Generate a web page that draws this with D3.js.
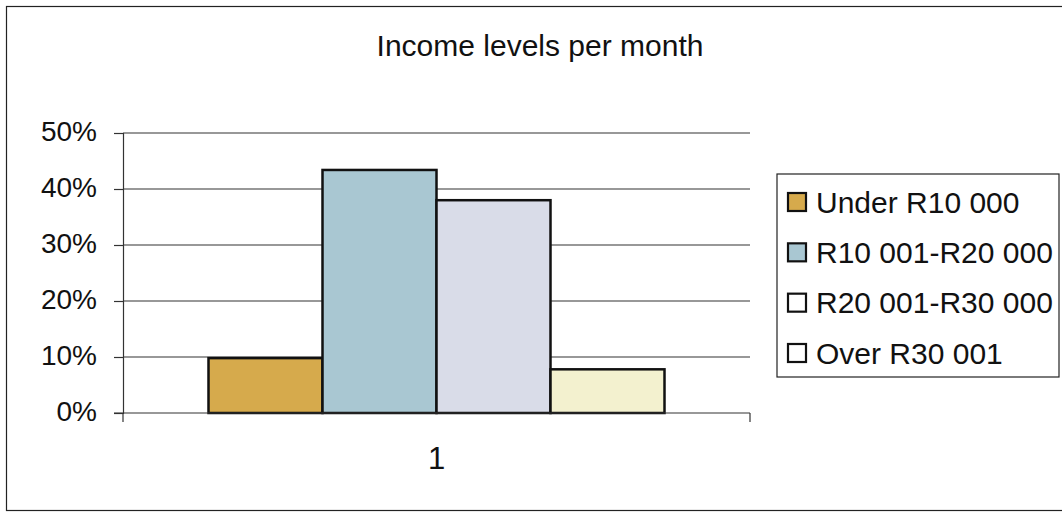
<!DOCTYPE html>
<html>
<head>
<meta charset="utf-8">
<script src="https://cdn.jsdelivr.net/npm/d3@7"></script>
<style>
  html, body { margin: 0; padding: 0; background: #fff; }
  svg { display: block; font-family: "Liberation Sans", Arial, sans-serif; }
</style>
</head>
<body>
<svg id="chart" width="1062" height="513"></svg>
<script>
// Income bands and the share of respondents in each
const categories = ["1"];
const seriesNames = ["Under R10 000", "R10 001-R20 000", "R20 001-R30 000", "Over R30 001"];
const shares = [0.098, 0.434, 0.380, 0.078];
const seriesColors = ["#d6aa4c", "#a9c7d2", "#d9dce8", "#f3f1cf"];
const legendSwatchColors = ["#d6aa4c", "#a9c7d2", "#ffffff", "#ffffff"];
const yTicks = [0, 0.1, 0.2, 0.3, 0.4, 0.5];
const titleText = "Income levels per month";

const svg = d3.select("#chart");

// outer chart frame
svg.append("rect")
  .attr("x", 6.5).attr("y", 6.5)
  .attr("width", 1070).attr("height", 504)
  .attr("fill", "#fff").attr("stroke", "#222").attr("stroke-width", 1.2);

const plot = { left: 123, right: 750, top: 133, bottom: 413 };

const y = d3.scaleLinear().domain([0, 0.5]).range([plot.bottom, plot.top]);
const x = d3.scaleBand().domain(categories)
  .range([plot.left, plot.right]).paddingInner(0).paddingOuter(0.1875);
const xs = d3.scaleBand().domain(seriesNames).range([0, x.bandwidth()]);

// horizontal gridlines
svg.append("g").selectAll("line")
  .data(yTicks.filter(d => d > 0))
  .join("line")
  .attr("x1", plot.left).attr("x2", plot.right)
  .attr("y1", d => y(d)).attr("y2", d => y(d))
  .attr("stroke", "#333").attr("stroke-width", 1.2);

// bars
const bars = categories.flatMap(c => seriesNames.map((s, i) => ({ c, s, v: shares[i], i })));
svg.append("g").selectAll("rect")
  .data(bars)
  .join("rect")
  .attr("x", d => x(d.c) + xs(d.s))
  .attr("y", d => y(d.v))
  .attr("width", xs.bandwidth())
  .attr("height", d => y(0) - y(d.v))
  .attr("fill", d => seriesColors[d.i])
  .attr("stroke", "#111").attr("stroke-width", 2.5);

// value axis
const yAxis = svg.append("g")
  .attr("transform", `translate(${plot.left},0)`)
  .call(d3.axisLeft(y).tickValues(yTicks).tickFormat(d3.format(".0%")).tickSize(9).tickPadding(17));
yAxis.select(".domain").attr("stroke", "#333").attr("stroke-width", 1.2);
yAxis.selectAll(".tick line").attr("stroke", "#333").attr("stroke-width", 1.2);
yAxis.selectAll(".tick text")
  .attr("font-size", 28).attr("fill", "#111").attr("dy", "0.28em")
  .style("font-family", "'Liberation Sans', Arial, sans-serif");

// category axis
const xAxis = svg.append("g")
  .attr("transform", `translate(0,${plot.bottom})`)
  .call(d3.axisBottom(x).tickSize(0).tickPadding(34));
xAxis.select(".domain").attr("stroke", "#333").attr("stroke-width", 1.2)
  .attr("d", `M${plot.left - 9},0H${plot.right}`);
xAxis.selectAll(".tick text")
  .attr("font-size", 31).attr("fill", "#111")
  .style("font-family", "'Liberation Sans', Arial, sans-serif");
// category boundary ticks
xAxis.selectAll(".edge")
  .data([plot.left, plot.right])
  .join("line")
  .attr("class", "edge")
  .attr("x1", d => d).attr("x2", d => d)
  .attr("y1", 0).attr("y2", 9)
  .attr("stroke", "#333").attr("stroke-width", 1.2);

// title
svg.append("text")
  .attr("x", 540).attr("y", 56)
  .attr("text-anchor", "middle")
  .attr("font-size", 30).attr("fill", "#111")
  .text(titleText);

// legend
const legend = svg.append("g").attr("transform", "translate(777,174)");
legend.append("rect")
  .attr("x", 0).attr("y", 0).attr("width", 282).attr("height", 203)
  .attr("fill", "#fff").attr("stroke", "#222").attr("stroke-width", 1.2);
const rowY = d3.scalePoint().domain(seriesNames).range([28, 179]);
const items = legend.selectAll("g.item")
  .data(seriesNames)
  .join("g")
  .attr("class", "item")
  .attr("transform", d => `translate(0,${rowY(d)})`);
items.append("rect")
  .attr("x", 11).attr("y", -9).attr("width", 18).attr("height", 18)
  .attr("fill", (d, i) => legendSwatchColors[i])
  .attr("stroke", "#111").attr("stroke-width", 2.2);
items.append("text")
  .attr("x", 39).attr("y", 0).attr("dy", "0.35em")
  .attr("font-size", 30).attr("fill", "#111")
  .text(d => d);
</script>
</body>
</html>
